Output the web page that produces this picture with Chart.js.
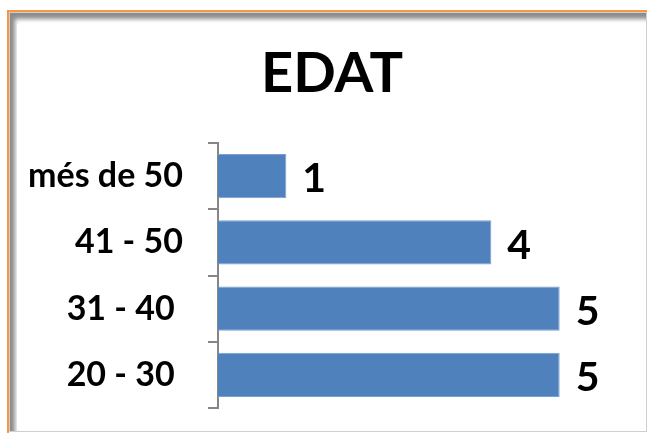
<!DOCTYPE html>
<html>
<head>
<meta charset="utf-8">
<script src="https://cdn.jsdelivr.net/npm/chart.js@4.4.1/dist/chart.umd.min.js"></script>
<style>
  html, body { margin: 0; padding: 0; background: #fff; }
  #wrap { position: relative; width: 647px; height: 433px; overflow: hidden; background: #fff; }
  #orange { position: absolute; left: 7px; top: 10px; width: 660px; height: 440px;
            border-left: 2px solid #F79646; border-top: 2px solid #F79646; box-sizing: border-box; }
  #frame { position: absolute; left: 9px; top: 12px; width: 638px; height: 420px; box-sizing: border-box;
           border: 1px solid #CFCFCF; box-shadow: inset 7px 8px 4px -2px #8C8C8C; }
  #inner { position: absolute; left: 17px; top: 24px; width: 628px; height: 406px; background: #fff; }
  canvas { position: absolute; left: 0; top: 0; }
</style>
</head>
<body>
<div id="wrap">
  <div id="orange"></div>
  <div id="frame"></div>
  <div id="inner"></div>
  <canvas id="c" width="647" height="433"></canvas>
</div>
<script>
const chartTitle = "EDAT";
const categories = ["més de 50", "41 - 50", "31 - 40 ", "20 - 30 "];
const values = [1, 4, 5, 5];
const axisMax = 6;

const titlePlugin = {
  id: 'customTitle',
  afterDraw(chart) {
    const ctx = chart.ctx;
    ctx.save();
    ctx.font = 'bold 56px Lato';
    ctx.fillStyle = '#000';
    ctx.textAlign = 'center';
    ctx.textBaseline = 'alphabetic';
    ctx.fillText(chartTitle, 332, 92);
    ctx.restore();
  }
};

const valueLabels = {
  id: 'valueLabels',
  afterDatasetsDraw(chart) {
    const ctx = chart.ctx;
    const meta = chart.getDatasetMeta(0);
    ctx.save();
    ctx.font = 'bold 41px Lato';
    ctx.fillStyle = '#000';
    ctx.textAlign = 'left';
    ctx.textBaseline = 'middle';
    meta.data.forEach((bar, i) => {
      ctx.fillText(String(values[i]), bar.x + 16, bar.y + 3);
    });
    ctx.restore();
  }
};

new Chart(document.getElementById('c'), {
  type: 'bar',
  data: {
    labels: categories,
    datasets: [{
      data: values,
      backgroundColor: '#4F81BD',
      borderColor: '#7B9FCE',
      borderWidth: 1,
      barPercentage: 0.667,
      categoryPercentage: 1.0
    }]
  },
  options: {
    indexAxis: 'y',
    responsive: false,
    animation: false,
    events: [],
    layout: { padding: { left: 0, right: 19, top: 143, bottom: 25 } },
    plugins: {
      legend: { display: false },
      title: { display: false },
      tooltip: { enabled: false }
    },
    scales: {
      x: { display: false, min: 0, max: axisMax },
      y: {
        afterFit(s) { s.width = 218; s.paddingTop = 0; s.paddingBottom = 0; },
        grid: { display: true, drawOnChartArea: false, drawTicks: true, tickLength: 10,
                color: '#868686', lineWidth: 2, offset: true },
        border: { display: true, color: '#868686', width: 2 },
        ticks: { color: '#000', font: { family: 'Lato', weight: 'bold', size: 34 }, padding: 25 }
      }
    }
  },
  plugins: [titlePlugin, valueLabels]
});
</script>
</body>
</html>
